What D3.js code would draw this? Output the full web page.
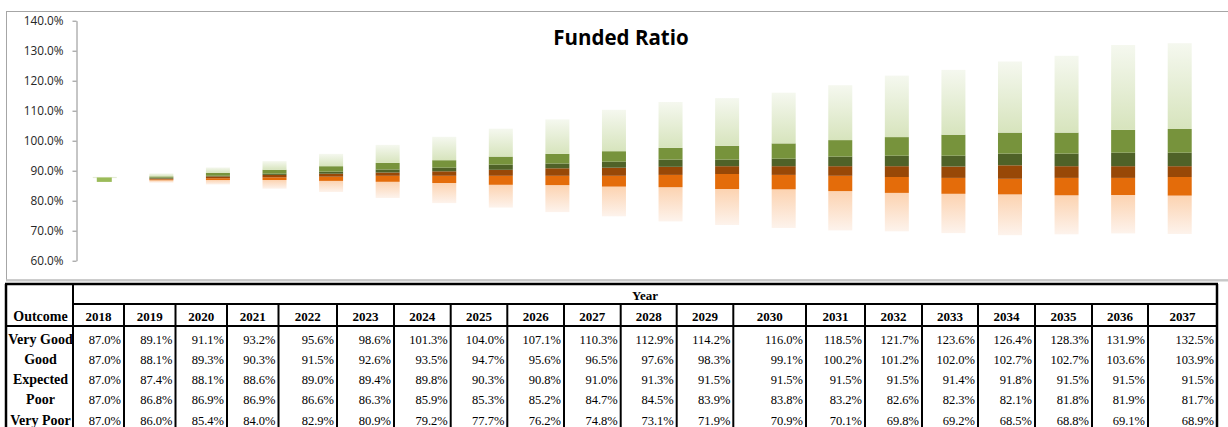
<!DOCTYPE html>
<html>
<head>
<meta charset="utf-8">
<script src="https://cdn.jsdelivr.net/npm/d3@7"></script>
<style>
  html, body { margin: 0; padding: 0; background: #fff; }
  svg { display: block; }
</style>
</head>
<body>
<svg id="chart" width="1228" height="427"></svg>
<script>
// ---------------- DATA ----------------
const years = [2018, 2019, 2020, 2021, 2022, 2023, 2024, 2025, 2026, 2027, 2028, 2029, 2030, 2031, 2032, 2033, 2034, 2035, 2036, 2037];
const outcomes = ["Very Good", "Good", "Expected", "Poor", "Very Poor"];
const veryGood = [87.0, 89.1, 91.1, 93.2, 95.6, 98.6, 101.3, 104.0, 107.1, 110.3, 112.9, 114.2, 116.0, 118.5, 121.7, 123.6, 126.4, 128.3, 131.9, 132.5];
const good     = [87.0, 88.1, 89.3, 90.3, 91.5, 92.6, 93.5, 94.7, 95.6, 96.5, 97.6, 98.3, 99.1, 100.2, 101.2, 102.0, 102.7, 102.7, 103.6, 103.9];
const expected = [87.0, 87.4, 88.1, 88.6, 89.0, 89.4, 89.8, 90.3, 90.8, 91.0, 91.3, 91.5, 91.5, 91.5, 91.5, 91.4, 91.8, 91.5, 91.5, 91.5];
const poor     = [87.0, 86.8, 86.9, 86.9, 86.6, 86.3, 85.9, 85.3, 85.2, 84.7, 84.5, 83.9, 83.8, 83.2, 82.6, 82.3, 82.1, 81.8, 81.9, 81.7];
const veryPoor = [87.0, 86.0, 85.4, 84.0, 82.9, 80.9, 79.2, 77.7, 76.2, 74.8, 73.1, 71.9, 70.9, 70.1, 69.8, 69.2, 68.5, 68.8, 69.1, 68.9];
// chart-only intermediate band edges
const aboveExpected = [87.0, 87.7, 88.3, 89.0, 89.7, 90.4, 91.0, 92.0, 92.4, 93.0, 93.7, 93.7, 94.0, 94.7, 95.0, 95.0, 95.7, 95.7, 96.0, 96.0];
const belowExpected = [87.0, 87.1, 87.5, 87.8, 88.0, 88.3, 88.3, 88.3, 88.3, 88.3, 88.6, 88.9, 88.6, 88.3, 87.9, 87.6, 87.3, 87.6, 87.6, 87.9];
const startValue = 87.0;
const yTicks = [60, 70, 80, 90, 100, 110, 120, 130, 140];
const title = "Funded Ratio";

// ---------------- LAYOUT ----------------
const svg = d3.select("#chart");
const plot = { left: 76.5, right: 1208, top: 20.7, bottom: 260.7 };
const y = d3.scaleLinear().domain([60, 140]).range([plot.bottom, plot.top]);
const x = d3.scalePoint().domain(years).range([plot.left, plot.right]).padding(0.5);
const barW = 24;

// chart frame
svg.append("rect").attr("x", 6.5).attr("y", 11.5).attr("width", 1230).attr("height", 268.5)
  .attr("fill", "#fff").attr("stroke", "#a6a6a6").attr("stroke-width", 1);
svg.append("line").attr("x1", 6).attr("x2", 1228).attr("y1", 280.5).attr("y2", 280.5)
  .attr("stroke", "#c8c8c8").attr("stroke-width", 2);

// gradients
const defs = svg.append("defs");
function grad(id, top, bottom) {
  const g = defs.append("linearGradient").attr("id", id).attr("x1", 0).attr("y1", 0).attr("x2", 0).attr("y2", 1);
  g.append("stop").attr("offset", "0%").attr("stop-color", top);
  g.append("stop").attr("offset", "100%").attr("stop-color", bottom);
}
grad("gGreen", "#f5f8ef", "#d7e4bd");
grad("gPeach", "#fcd3b1", "#fdf3ec");

// title
svg.append("text").attr("x", 621).attr("y", 45).attr("text-anchor", "middle")
  .attr("font-family", "'Open Sans', sans-serif").attr("font-weight", 700).attr("font-size", 20.5)
  .attr("fill", "#000").text(title);

// axis
const axis = d3.axisLeft(y).tickValues(yTicks).tickFormat(d => d.toFixed(1) + "%").tickSize(4).tickSizeOuter(0).tickPadding(9);
const ag = svg.append("g").attr("transform", `translate(${plot.left},0)`).call(axis);
ag.select(".domain").attr("stroke", "#8c8c8c");
ag.selectAll(".tick line").attr("stroke", "#8c8c8c");
ag.selectAll(".tick text").attr("font-family", "'Open Sans', sans-serif").attr("font-size", 11.8).attr("fill", "#262626");

// bands
const bands = [
  { lo: veryPoor, hi: poor, fill: "url(#gPeach)" },
  { lo: poor, hi: belowExpected, fill: "#e46c0a" },
  { lo: belowExpected, hi: expected, fill: "#984807" },
  { lo: expected, hi: aboveExpected, fill: "#4f6228" },
  { lo: aboveExpected, hi: good, fill: "#77933c" },
  { lo: good, hi: veryGood, fill: "url(#gGreen)" }
];
const bars = svg.append("g");
bands.forEach(b => {
  bars.selectAll(null).data(years.map((yr, i) => ({ yr, lo: b.lo[i], hi: b.hi[i] })).filter(d => d.hi > d.lo))
    .enter().append("rect")
    .attr("x", d => x(d.yr) - barW / 2)
    .attr("width", barW)
    .attr("y", d => y(d.hi))
    .attr("height", d => y(d.lo) - y(d.hi))
    .attr("fill", b.fill);
});
// starting point marker (2018)
svg.append("rect").attr("x", x(years[0]) - barW / 2).attr("width", barW)
  .attr("y", y(startValue) - 2.8).attr("height", 1.2).attr("fill", "#e4ecd4");
svg.append("rect").attr("x", x(years[0]) - 8).attr("width", 15)
  .attr("y", y(startValue) - 2.2).attr("height", 4.4).attr("fill", "#9bbb59");

// ---------------- TABLE ----------------
const colEdges = [6, 73, 124, 175.5, 227, 278.5, 337, 394, 450.7, 507.3, 564, 620.7, 676.7, 733.3, 806, 865, 922, 978, 1035, 1092, 1148, 1217];
const tTop = 284, yearLine = 304, headLine = 326;
const rowBase = [344, 364.3, 384.3, 404, 424.5];
const serif = "'Liberation Serif', 'Times New Roman', serif";
const tbl = svg.append("g");
const rows = [veryGood, good, expected, poor, veryPoor];

// header texts
tbl.append("text").attr("x", (colEdges[1] + colEdges[colEdges.length - 1]) / 2).attr("y", 299.5)
  .attr("text-anchor", "middle").attr("font-family", serif).attr("font-weight", 700).attr("font-size", 13).text("Year");
tbl.append("text").attr("x", (colEdges[0] + colEdges[1]) / 2 + 1).attr("y", 320.5)
  .attr("text-anchor", "middle").attr("font-family", serif).attr("font-weight", 700).attr("font-size", 14).text("Outcome");
years.forEach((yr, i) => {
  tbl.append("text").attr("x", (colEdges[i + 1] + colEdges[i + 2]) / 2).attr("y", 320.5)
    .attr("text-anchor", "middle").attr("font-family", serif).attr("font-weight", 700).attr("font-size", 13).text(yr);
});
outcomes.forEach((o, r) => {
  tbl.append("text").attr("x", (colEdges[0] + colEdges[1]) / 2 + 1).attr("y", rowBase[r])
    .attr("text-anchor", "middle").attr("font-family", serif).attr("font-weight", 700).attr("font-size", 14).text(o);
  rows[r].forEach((v, i) => {
    tbl.append("text").attr("x", colEdges[i + 2] - 3).attr("y", rowBase[r])
      .attr("text-anchor", "end").attr("font-family", serif).attr("font-size", 12.5).text(v.toFixed(1) + "%");
  });
});
// lines
const L = (x1, y1, x2, y2, w) => tbl.append("line").attr("x1", x1).attr("y1", y1).attr("x2", x2).attr("y2", y2)
  .attr("stroke", "#000").attr("stroke-width", w);
L(colEdges[0] - 1, tTop, colEdges[colEdges.length - 1] + 1, tTop, 2.5);
L(colEdges[1], yearLine, colEdges[colEdges.length - 1] + 1, yearLine, 2);
L(colEdges[0] - 1, headLine, colEdges[colEdges.length - 1] + 1, headLine, 2);
L(colEdges[0], tTop, colEdges[0], 430, 2.5);
L(colEdges[1], tTop, colEdges[1], 430, 2);
L(colEdges[colEdges.length - 1], tTop, colEdges[colEdges.length - 1], 430, 2.5);
colEdges.slice(2, -1).forEach(e => L(e, yearLine, e, 430, 2));
</script>
</body>
</html>
